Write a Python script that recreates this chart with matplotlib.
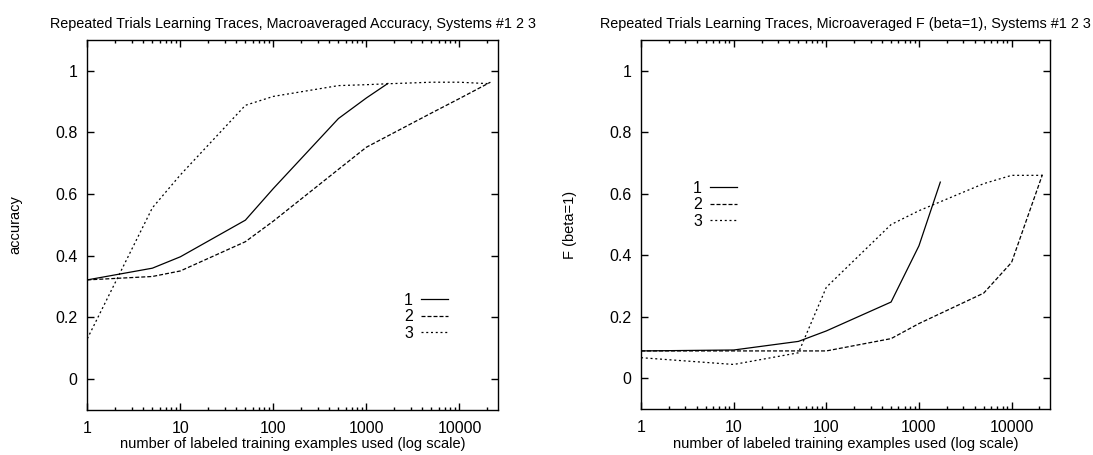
import matplotlib
matplotlib.use("Agg")
import matplotlib.pyplot as plt
from matplotlib.ticker import FixedLocator, FormatStrFormatter, LogLocator, NullFormatter

plt.rcParams['font.family'] = ['Liberation Sans', 'DejaVu Sans']
plt.rcParams['font.size'] = 10.5

# training set sizes and scores per system, macroaveraged accuracy
acc_x1 = [1, 5, 10, 50, 100, 500, 1000, 1700]
acc_y1 = [0.321, 0.359, 0.396, 0.515, 0.618, 0.845, 0.912, 0.959]
acc_x2 = [1, 5, 10, 50, 100, 500, 1000, 5000, 10000, 21500]
acc_y2 = [0.321, 0.332, 0.35, 0.445, 0.512, 0.68, 0.752, 0.863, 0.91, 0.963]
acc_x3 = [1, 5, 10, 50, 100, 500, 1000, 1700, 5000, 10000, 21500]
acc_y3 = [0.13, 0.555, 0.662, 0.888, 0.917, 0.952, 0.955, 0.958, 0.963, 0.963, 0.958]

# microaveraged F (beta=1)
f_x1 = [1, 10, 50, 100, 500, 1000, 1700]
f_y1 = [0.089, 0.092, 0.12, 0.154, 0.248, 0.431, 0.638]
f_x2 = [1, 10, 50, 100, 500, 1000, 5000, 10000, 21500]
f_y2 = [0.089, 0.089, 0.089, 0.089, 0.129, 0.178, 0.277, 0.377, 0.662]
f_x3 = [1, 10, 50, 100, 500, 1000, 5000, 10000, 21500]
f_y3 = [0.067, 0.045, 0.083, 0.296, 0.50, 0.545, 0.633, 0.66, 0.66]

series_labels = ['1', '2', '3']
x_ticks = [1, 10, 100, 1000, 10000]
y_ticks = [0, 0.2, 0.4, 0.6, 0.8, 1]

LW = 0.9
STYLES = [dict(linestyle='-'),
          dict(dashes=(3.2, 1.6)),
          dict(dashes=(1.6, 2.2))]


def setup_axes(ax, title, ylabel):
    ax.set_xscale('log')
    ax.set_xlim(1, 26000)
    ax.set_ylim(-0.1, 1.1)
    ax.xaxis.set_major_locator(FixedLocator(x_ticks))
    ax.xaxis.set_major_formatter(FormatStrFormatter('%d'))
    ax.xaxis.set_minor_locator(LogLocator(base=10, subs=range(2, 10)))
    ax.xaxis.set_minor_formatter(NullFormatter())
    ax.yaxis.set_major_locator(FixedLocator(y_ticks))
    ax.yaxis.set_major_formatter(FormatStrFormatter('%g'))
    ax.tick_params(which='both', direction='in', top=True, right=True, width=1)
    ax.tick_params(which='major', length=5, labelsize=11.5)
    ax.tick_params(which='minor', length=2.5)
    ax.tick_params(axis='x', pad=8)
    ax.tick_params(axis='y', pad=7)
    for s in ax.spines.values():
        s.set_linewidth(1)
    ax.set_title(title, fontsize=10.4, pad=9)
    ax.set_xlabel('number of labeled training examples used (log scale)', labelpad=1)
    ax.set_ylabel(ylabel)
    ax.yaxis.set_label_coords(-0.157, 0.5)


def draw(ax, xs, ys):
    for x, y, lab, st in zip(xs, ys, series_labels, STYLES):
        ax.plot(x, y, color='black', lw=LW, label=lab, **st)


fig = plt.figure(figsize=(10.93, 4.55), dpi=100)
ax1 = fig.add_axes([0.0799, 0.100, 0.3758, 0.812])
ax2 = fig.add_axes([0.5865, 0.101, 0.3742, 0.811])

draw(ax1, [acc_x1, acc_x2, acc_x3], [acc_y1, acc_y2, acc_y3])
setup_axes(ax1, 'Repeated Trials Learning Traces, Macroaveraged Accuracy, Systems #1 2 3', 'accuracy')
ax1.legend(loc='center', bbox_to_anchor=(0.825, 0.251), frameon=False, markerfirst=False,
           fontsize=11.5, handlelength=1.7, handletextpad=0.5, labelspacing=0.1, borderpad=0)

draw(ax2, [f_x1, f_x2, f_x3], [f_y1, f_y2, f_y3])
setup_axes(ax2, 'Repeated Trials Learning Traces, Microaveraged F (beta=1), Systems #1 2 3', 'F (beta=1)')
ax2.legend(loc='center', bbox_to_anchor=(0.181, 0.553), frameon=False, markerfirst=False,
           fontsize=11.5, handlelength=1.7, handletextpad=0.5, labelspacing=0.1, borderpad=0)

fig.savefig('out.png', dpi=100)
